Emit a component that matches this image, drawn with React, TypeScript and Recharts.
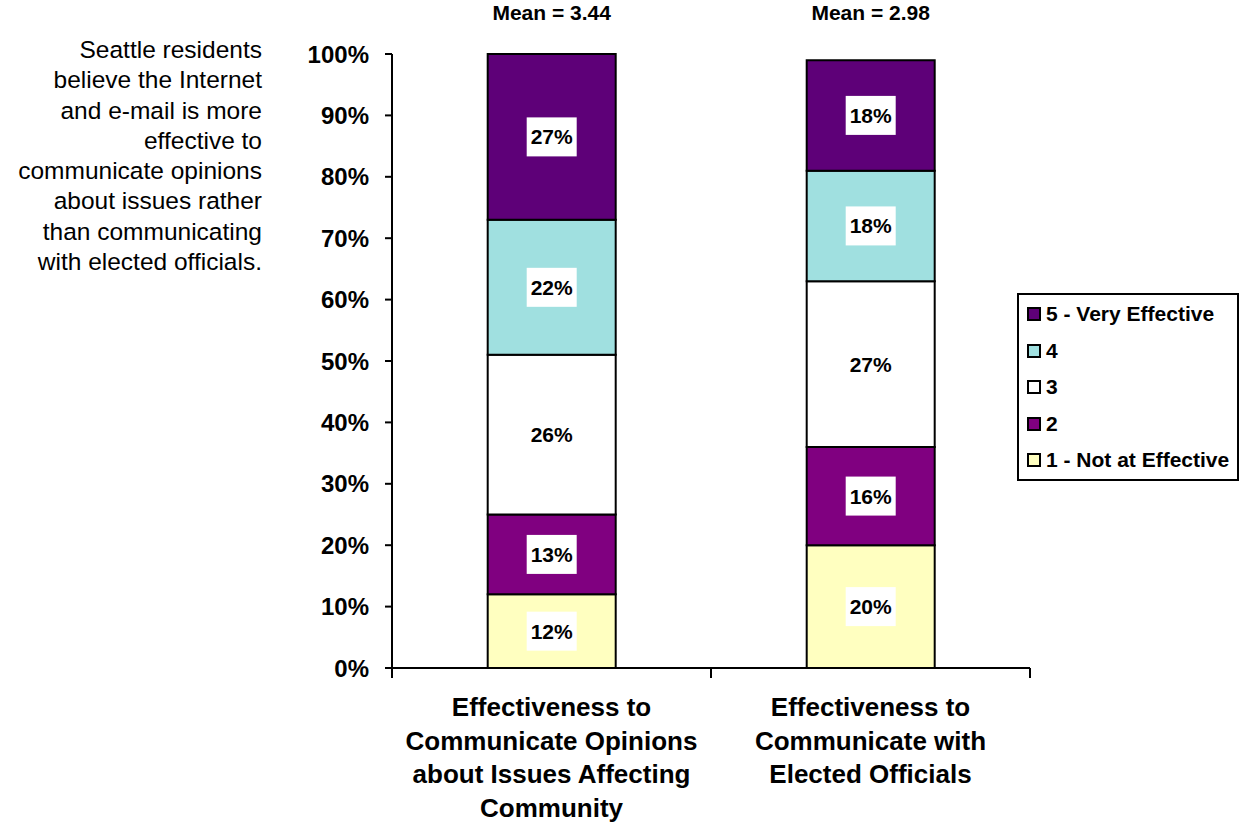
import React from 'react';
import { BarChart, Bar, XAxis, YAxis, LabelList, Legend } from 'recharts';

const categories = [
  'Effectiveness to\nCommunicate Opinions\nabout Issues Affecting\nCommunity',
  'Effectiveness to\nCommunicate with\nElected Officials',
];
const seriesKeys = ['s1', 's2', 's3', 's4', 's5'];
const seriesNames = ['1 - Not at Effective', '2', '3', '4', '5 - Very Effective'];
const seriesColors = ['#FFFFC0', '#800080', '#FFFFFF', '#A0E0E0', '#5E0078'];
const notEffective = [12, 20];
const rating2 = [13, 16];
const rating3 = [26, 27];
const rating4 = [22, 18];
const veryEffective = [27, 18];
const means = ['3.44', '2.98'];
const yTicks = [0, 10, 20, 30, 40, 50, 60, 70, 80, 90, 100];
const noteLines = [
  'Seattle residents',
  'believe the Internet',
  'and e-mail is more',
  'effective to',
  'communicate opinions',
  'about issues rather',
  'than communicating',
  'with elected officials.',
];

const FONT = '"Liberation Sans", Arial, Helvetica, sans-serif';
const W = 1239;
const H = 824;
const MARGIN = { top: 54, right: 209, bottom: 0, left: 302 };
const Y_AXIS_W = 90;
const X_AXIS_H = 156;
const PLOT_W = W - MARGIN.left - MARGIN.right - Y_AXIS_W;
const BAND = PLOT_W / categories.length;

const data = categories.map((c, i) => ({
  category: c,
  s1: notEffective[i],
  s2: rating2[i],
  s3: rating3[i],
  s4: rating4[i],
  s5: veryEffective[i],
  mean: means[i],
}));

const CategoryTick = (props: any) => {
  const x = Number(props.x);
  const y = Number(props.y);
  const index = Number(props.index);
  const lines = String(props.payload?.value ?? '').split('\n');
  const half = BAND / 2;
  return (
    <g>
      <line x1={x - half} y1={y} x2={x - half} y2={y + 10} stroke="#000" strokeWidth={2} />
      {index === categories.length - 1 && (
        <line x1={x + half} y1={y} x2={x + half} y2={y + 10} stroke="#000" strokeWidth={2} />
      )}
      <text
        x={x}
        y={y + 48}
        textAnchor="middle"
        fontSize={26}
        fontWeight="bold"
        fill="#000"
        fontFamily={FONT}
      >
        {lines.map((l, i) => (
          <tspan key={i} x={x} dy={i === 0 ? 0 : 33.6}>
            {l}
          </tspan>
        ))}
      </text>
    </g>
  );
};

const SegmentLabel = (props: any) => {
  const x = Number(props.x);
  const y = Number(props.y);
  const width = Number(props.width);
  const height = Number(props.height);
  const cx = x + width / 2;
  const cy = y + height / 2;
  return (
    <g>
      <rect x={cx - 25} y={cy - 19.5} width={50} height={39} fill="#fff" />
      <text
        x={cx}
        y={cy}
        textAnchor="middle"
        dominantBaseline="central"
        fontSize={21}
        fontWeight="bold"
        fill="#000"
        fontFamily={FONT}
      >
        {props.value}%
      </text>
    </g>
  );
};

const MeanLabel = (props: any) => {
  const x = Number(props.x);
  const width = Number(props.width);
  return (
    <text
      x={x + width / 2}
      y={12}
      textAnchor="middle"
      dominantBaseline="central"
      fontSize={21}
      fontWeight="bold"
      fill="#000"
      fontFamily={FONT}
    >
      Mean = {props.value}
    </text>
  );
};

const LegendBox = (props: any) => {
  const payload: any[] = props.payload && props.payload.length ? props.payload : [];
  const items = seriesNames.map((n, i) => {
    const p = payload.find((q) => q.dataKey === seriesKeys[i]);
    return { name: n, color: (p && p.color) || seriesColors[i] };
  }).reverse();
  return (
    <div
      style={{
        position: 'relative',
        width: 222,
        height: 188,
        border: '2px solid #000',
        boxSizing: 'border-box',
        background: '#fff',
        fontFamily: FONT,
      }}
    >
      {items.map((it, i) => (
        <div
          key={it.name}
          style={{
            position: 'absolute',
            left: 8,
            top: 19 + i * 36.5 - 12,
            height: 24,
            display: 'flex',
            alignItems: 'center',
            whiteSpace: 'nowrap',
          }}
        >
          <span
            style={{
              display: 'inline-block',
              width: 14,
              height: 14,
              boxSizing: 'border-box',
              border: '2px solid #000',
              background: it.color,
              marginRight: 5,
            }}
          />
          <span style={{ fontSize: 21, fontWeight: 'bold', color: '#000', lineHeight: '24px' }}>
            {it.name}
          </span>
        </div>
      ))}
    </div>
  );
};

export default function App() {
  return (
    <div style={{ position: 'absolute', left: 0, top: 0, width: W, height: H, background: '#fff' }}>
      <div
        style={{
          position: 'absolute',
          left: 0,
          top: 35,
          width: 262,
          textAlign: 'right',
          fontFamily: FONT,
          fontSize: 24.5,
          lineHeight: '30.3px',
          color: '#000',
        }}
      >
        {noteLines.map((l) => (
          <div key={l}>{l}</div>
        ))}
      </div>
      <BarChart width={W} height={H} data={data} margin={MARGIN} barCategoryGap="30%">
        <XAxis
          dataKey="category"
          height={X_AXIS_H}
          axisLine={{ stroke: '#000', strokeWidth: 2 }}
          tickLine={false}
          tickSize={0}
          tickMargin={0}
          interval={0}
          tick={<CategoryTick />}
        />
        <YAxis
          width={Y_AXIS_W}
          domain={[0, 100]}
          ticks={yTicks}
          interval={0}
          tickFormatter={(v: number) => `${v}%`}
          axisLine={{ stroke: '#000', strokeWidth: 2 }}
          tickLine={{ stroke: '#000', strokeWidth: 2 }}
          tickSize={7}
          tickMargin={16}
          tick={{ fontSize: 24, fontWeight: 'bold', fill: '#000', fontFamily: FONT }}
        />
        <Legend
          layout="horizontal"
          align="center"
          verticalAlign="middle"
          content={<LegendBox />}
          wrapperStyle={{ left: 1017, top: 293, width: 222, height: 188 }}
        />
        {seriesKeys.map((k, i) => (
          <Bar
            key={k}
            dataKey={k}
            name={seriesNames[i]}
            stackId="a"
            fill={seriesColors[i]}
            stroke="#000"
            strokeWidth={2}
            isAnimationActive={false}
          >
            <LabelList dataKey={k} content={<SegmentLabel />} />
            {i === seriesKeys.length - 1 && <LabelList dataKey="mean" content={<MeanLabel />} />}
          </Bar>
        ))}
      </BarChart>
    </div>
  );
}
